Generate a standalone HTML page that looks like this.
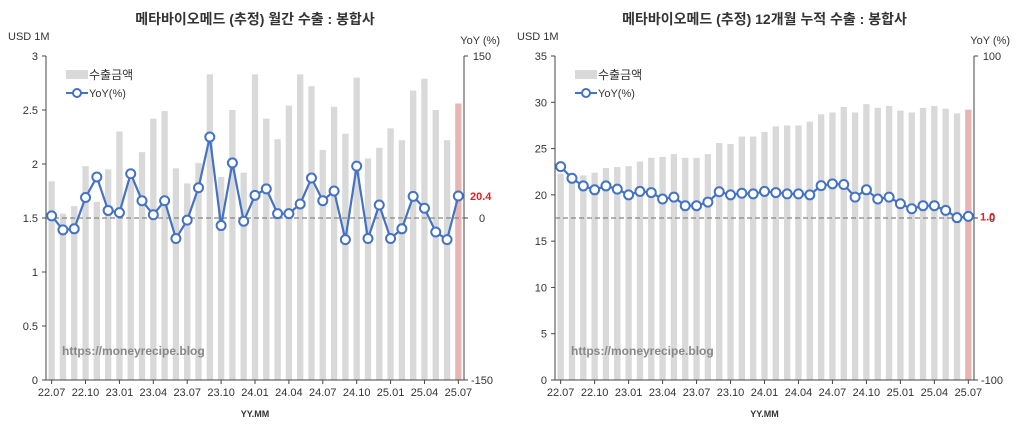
<!DOCTYPE html>
<html><head><meta charset="utf-8"><style>
body{margin:0;background:#fff;width:1024px;height:442px;overflow:hidden;font-family:"Liberation Sans","Noto Sans CJK KR",sans-serif}
svg text{font-family:"Liberation Sans","Noto Sans CJK KR",sans-serif}
</style></head><body>
<svg id="c" width="1024" height="442"></svg>
<script>
const months=["22.07","22.08","22.09","22.10","22.11","22.12","23.01","23.02","23.03","23.04","23.05","23.06","23.07","23.08","23.09","23.10","23.11","23.12","24.01","24.02","24.03","24.04","24.05","24.06","24.07","24.08","24.09","24.10","24.11","24.12","25.01","25.02","25.03","25.04","25.05","25.06","25.07"];
const tickLabels=["22.07","22.10","23.01","23.04","23.07","23.10","24.01","24.04","24.07","24.10","25.01","25.04","25.07"];
const monthlyExport=[1.84,1.54,1.61,1.98,1.65,1.95,2.30,1.85,2.11,2.42,2.49,1.96,1.82,2.01,2.83,1.88,2.50,1.92,2.83,2.42,2.23,2.54,2.83,2.72,2.13,2.53,2.28,2.80,2.05,2.15,2.33,2.22,2.68,2.79,2.50,2.22,2.56];
const monthlyYoY=[2,-11,-10,19,38,7,5,41,16,3,16,-19,-2,28,75,-7,51,-3,21,27,4,4,13,37,16,25,-20,48,-19,12,-19,-10,20,9,-13,-20,20.4];
const cumExport=[22.3,21.8,22.1,22.4,22.9,23.0,23.1,23.6,24.0,24.1,24.4,24.0,24.0,24.4,25.6,25.5,26.3,26.3,26.8,27.4,27.5,27.5,27.9,28.7,28.9,29.5,28.9,29.8,29.4,29.6,29.1,28.9,29.4,29.6,29.3,28.8,29.2];
const cumYoY=[31.7,24.5,19.8,17.4,19.8,17.8,14.3,16.4,15.7,11.7,12.9,7.6,7.6,9.8,16.2,14.3,15.3,14.9,16.4,15.7,14.9,14.9,14.3,20.0,21.1,20.7,12.9,17.4,11.7,12.9,8.8,5.7,7.6,7.6,4.7,0.2,1.0];
const leftTicks1=[0,0.5,1,1.5,2,2.5,3];
const leftTicks2=[0,5,10,15,20,25,30,35];
const NS="http://www.w3.org/2000/svg";
const svg=document.getElementById('c');
function mk(tag,attrs,parent,txt){const e=document.createElementNS(NS,tag);for(const k in attrs)e.setAttribute(k,attrs[k]);if(txt!==undefined)e.textContent=txt;(parent||svg).appendChild(e);return e;}
function chart(o){
  const g=mk('g',{});
  
  
  const top=56,bot=380,x0=o.x0,x1=o.x1;
  const n=months.length,bw=(x1-x0)/n;
  const yL=v=>bot-(v-o.lmin)/(o.lmax-o.lmin)*(bot-top);
  const yR=v=>bot-(v-o.rmin)/(o.rmax-o.rmin)*(bot-top);
  const xc=i=>x0+bw*(i+0.5);
  // title
  const t=mk('text',{x:(x0+x1)/2,y:24,'text-anchor':'middle','font-size':14,'font-weight':'bold',fill:'#333'},g,o.title);
  
  const u=mk('text',{x:x0-38,y:40,'font-size':11,fill:'#333'},g,'USD 1M');
  
  const r=mk('text',{x:x1+36,y:44,'text-anchor':'end','font-size':11,fill:'#333'},g,'YoY (%)');
  
  // bars
  o.bars.forEach((v,i)=>{
    const b=mk('rect',{x:xc(i)-bw*0.28,y:yL(v),width:bw*0.56,height:bot-yL(v),fill:i===n-1?'#e8b4b4':'#d9d9d9'},g);
    
  });
  // axes
  mk('line',{x1:x0,y1:top,x2:x0,y2:bot,stroke:'#444'},g);
  mk('line',{x1:x1,y1:top,x2:x1,y2:bot,stroke:'#444'},g);
  mk('line',{x1:x0,y1:bot,x2:x1,y2:bot,stroke:'#444'},g);
  o.lticks.forEach(v=>{
    mk('line',{x1:x0-4,y1:yL(v),x2:x0,y2:yL(v),stroke:'#444'},g);
    const tl=mk('text',{x:x0-8,y:yL(v)+4,'text-anchor':'end','font-size':11,fill:'#333'},g,String(v));
    
  });
  o.rticks.forEach(v=>{
    mk('line',{x1:x1,y1:yR(v),x2:x1+4,y2:yR(v),stroke:'#444'},g);
    const tl=mk('text',{x:x1+18,y:yR(v)+4,'text-anchor':'middle','font-size':11,fill:'#333'},g,String(v));
    
  });
  mk('line',{x1:x0,y1:yR(0),x2:x1,y2:yR(0),stroke:'#888','stroke-width':1.3,'stroke-dasharray':'5,3'},g);
  months.forEach((m,i)=>{
    if(tickLabels.includes(m)){
      mk('line',{x1:xc(i),y1:bot,x2:xc(i),y2:bot+4,stroke:'#444'},g);
      const tl=mk('text',{x:xc(i),y:bot+16,'text-anchor':'middle','font-size':11,fill:'#333'},g,m);
      
    }
  });
  const xt=mk('text',{x:(x0+x1)/2,y:bot+37,'text-anchor':'middle','font-size':9,'font-weight':'bold',fill:'#333'},g,'YY.MM');
  
  // line
  const pts=o.yoy.map((v,i)=>xc(i)+','+yR(v)).join(' ');
  const pl=mk('polyline',{points:pts,fill:'none',stroke:'#4472c4','stroke-width':2.2},g);
  
  o.yoy.forEach((v,i)=>{
    const c=mk('circle',{cx:xc(i),cy:yR(v),r:4.5,fill:'#fff',stroke:'#4472c4','stroke-width':2},g);
    
  });
  const lv=o.yoy[n-1];
  const lab=mk('text',{x:x1+6,y:yR(lv)+4,'font-size':11,'font-weight':'bold',fill:'#e02020'},g,String(lv.toFixed(1)));
  
  // legend
  const lg=mk('g',{},g);
  
  mk('rect',{x:x0+20,y:70,width:22,height:9,fill:'#d9d9d9'},lg);
  mk('text',{x:x0+43,y:79,'font-size':12,fill:'#333'},lg,'수출금액');
  mk('line',{x1:x0+20,y1:93,x2:x0+42,y2:93,stroke:'#4472c4','stroke-width':2},lg);
  mk('circle',{cx:x0+31,cy:93,r:4,fill:'#fff',stroke:'#4472c4','stroke-width':2},lg);
  mk('text',{x:x0+43,y:97,'font-size':11,fill:'#333'},lg,'YoY(%)');
  const wm=mk('text',{x:x0+16,y:355,'font-size':12,'font-weight':'bold',fill:'#888','font-family':'Liberation Mono,monospace'},g,'https://moneyrecipe.blog');
  
}
chart({name:'monthly-export-chart',title:'메타바이오메드 (추정) 월간 수출 : 봉합사',x0:46,x1:464,lmin:0,lmax:3,rmin:-150,rmax:150,lticks:leftTicks1,rticks:[150,0,-150],bars:monthlyExport,yoy:monthlyYoY});
chart({name:'cumulative-export-chart',title:'메타바이오메드 (추정) 12개월 누적 수출 : 봉합사',x0:555,x1:974,lmin:0,lmax:35,rmin:-100,rmax:100,lticks:leftTicks2,rticks:[100,0,-100],bars:cumExport,yoy:cumYoY});
</script>
</body></html>
